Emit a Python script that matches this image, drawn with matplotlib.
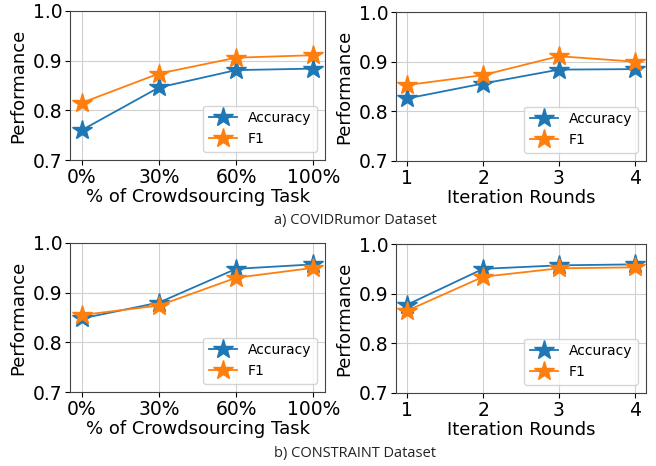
import matplotlib
matplotlib.use("Agg")
import matplotlib.pyplot as plt

crowd_labels = ["0%", "30%", "60%", "100%"]
round_labels = ["1", "2", "3", "4"]

covid_crowd_acc = [0.760, 0.846, 0.881, 0.884]
covid_crowd_f1 = [0.815, 0.874, 0.906, 0.911]
covid_iter_acc = [0.826, 0.856, 0.884, 0.885]
covid_iter_f1 = [0.853, 0.873, 0.911, 0.900]

cons_crowd_acc = [0.848, 0.880, 0.948, 0.957]
cons_crowd_f1 = [0.855, 0.874, 0.930, 0.950]
cons_iter_acc = [0.878, 0.950, 0.957, 0.959]
cons_iter_f1 = [0.866, 0.934, 0.951, 0.953]

W, H = 656, 466
fig = plt.figure(figsize=(W / 100, H / 100), dpi=100)


def box(l, t, r, b):
    return [l / W, 1 - b / H, (r - l) / W, (b - t) / H]


def panel(rect, labels, acc, f1, xlabel):
    ax = fig.add_axes(rect)
    x = range(len(labels))
    ax.plot(x, acc, marker="*", markersize=15, lw=1.3, color="#1f77b4", label="Accuracy")
    ax.plot(x, f1, marker="*", markersize=15, lw=1.3, color="#ff7f0e", label="F1")
    ax.set_ylim(0.7, 1.0)
    ax.set_yticks([0.7, 0.8, 0.9, 1.0])
    ax.set_xticks(list(x))
    ax.set_xticklabels(labels)
    ax.set_xlim(-0.15, 3.15)
    ax.grid(True, color="#d0d0d0")
    ax.set_axisbelow(True)
    ax.tick_params(labelsize=13.5, pad=2)
    ax.set_xlabel(xlabel, fontsize=13, labelpad=1)
    ax.set_ylabel("Performance", fontsize=13)
    ax.legend(loc="lower right", fontsize=10, borderaxespad=0.6)
    for s in ax.spines.values():
        s.set_color("#444444")
    return ax


panel(box(70, 11, 325, 160), crowd_labels, covid_crowd_acc, covid_crowd_f1,
      "% of Crowdsourcing Task")
panel(box(396, 12, 646, 161), round_labels, covid_iter_acc, covid_iter_f1,
      "Iteration Rounds")
panel(box(70, 243, 325, 392), crowd_labels, cons_crowd_acc, cons_crowd_f1,
      "% of Crowdsourcing Task")
panel(box(396, 244, 646, 393), round_labels, cons_iter_acc, cons_iter_f1,
      "Iteration Rounds")

fig.text(355 / W, 1 - 221 / H, "a) COVIDRumor Dataset", ha="center", va="center",
         fontsize=10.5, family="Open Sans", color="#222222")
fig.text(355 / W, 1 - 454 / H, "b) CONSTRAINT Dataset", ha="center", va="center",
         fontsize=10.5, family="Open Sans", color="#222222")

fig.savefig("out.png", dpi=100)
